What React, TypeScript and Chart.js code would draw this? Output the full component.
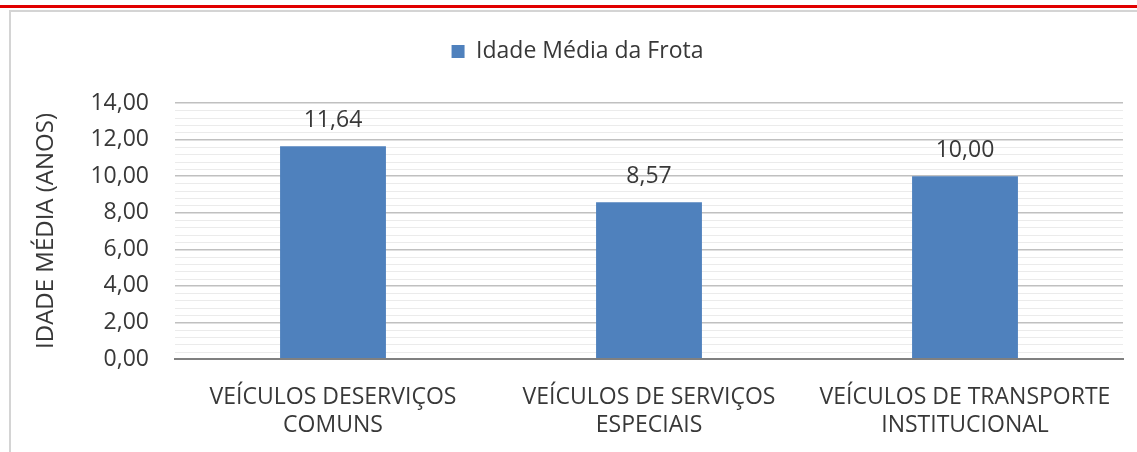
import React, { useEffect, useRef } from "react";
import { Chart, registerables } from "chart.js";

Chart.register(...registerables);

const categories: string[][] = [
  ["VEÍCULOS DESERVIÇOS", "COMUNS"],
  ["VEÍCULOS DE SERVIÇOS", "ESPECIAIS"],
  ["VEÍCULOS DE TRANSPORTE", "INSTITUCIONAL"],
];
const seriesLabel = "Idade Média da Frota";
const values: number[] = [11.64, 8.57, 10.0];
const yMin = 0;
const yMax = 14;
const yStep = 2;
const yMinorStep = 0.4;
const yTitle = "IDADE MÉDIA (ANOS)";

const FONT = "'Open Sans', 'Noto Sans', sans-serif";
const TEXT = "#383838";
const BAR = "#4F81BD";
const FS = 23;

const fmt = (v: number) => v.toFixed(2).replace(".", ",");

const legendSpace = {
  id: "legendSpace",
  beforeInit(chart: any) {
    const legend = chart.legend;
    if (!legend) return;
    const orig = legend.fit;
    legend.fit = function () {
      orig.call(this);
      this.height += 30;
    };
  },
};

const minorGrid = {
  id: "minorGrid",
  beforeDatasetsDraw(chart: any) {
    const y = chart.scales.y;
    const { left, right } = chart.chartArea;
    const ctx = chart.ctx;
    ctx.save();
    ctx.strokeStyle = "#ebebeb";
    ctx.lineWidth = 1;
    const n = Math.round((yMax - yMin) / yMinorStep);
    for (let i = 1; i < n; i++) {
      const v = yMin + i * yMinorStep;
      if (Math.abs(v / yStep - Math.round(v / yStep)) < 1e-6) continue;
      const py = Math.round(y.getPixelForValue(v)) + 0.5;
      ctx.beginPath();
      ctx.moveTo(left, py);
      ctx.lineTo(right, py);
      ctx.stroke();
    }
    ctx.restore();
  },
};

const dataLabels = {
  id: "dataLabels",
  afterDatasetsDraw(chart: any) {
    const ctx = chart.ctx;
    const meta = chart.getDatasetMeta(0);
    ctx.save();
    ctx.fillStyle = TEXT;
    ctx.font = `${FS}px ${FONT}`;
    ctx.textAlign = "center";
    ctx.textBaseline = "middle";
    meta.data.forEach((bar: any, i: number) => {
      ctx.fillText(fmt(values[i]), bar.x, bar.y - 26);
    });
    ctx.restore();
  },
};

export default function App() {
  const ref = useRef<HTMLCanvasElement | null>(null);
  useEffect(() => {
    if (!ref.current) return;
    const chart = new Chart(ref.current, {
      type: "bar",
      data: {
        labels: categories,
        datasets: [
          {
            label: seriesLabel,
            data: values,
            backgroundColor: BAR,
            borderWidth: 0,
            categoryPercentage: 1,
            barPercentage: 0.335,
          },
        ],
      },
      options: {
        animation: false,
        responsive: false,
        maintainAspectRatio: false,
        layout: { padding: { left: 22, right: 37, top: 17, bottom: 0 } },
        plugins: {
          legend: {
            display: true,
            position: "top",
            labels: {
              font: { family: FONT, size: FS },
              color: TEXT,
              boxWidth: 13,
              boxHeight: 13,
              padding: 12,
            },
          },
          tooltip: { enabled: false },
        },
        scales: {
          x: {
            grid: { display: false, drawTicks: false },
            border: { display: true, color: "#808080", width: 2 },
            ticks: {
              color: TEXT,
              font: { family: FONT, size: FS, lineHeight: "28px" },
              padding: 24,
              maxRotation: 0,
              autoSkip: false,
            },
            afterFit: (s: any) => {
              s.height = 93;
            },
          },
          y: {
            min: yMin,
            max: yMax,
            ticks: {
              stepSize: yStep,
              color: TEXT,
              font: { family: FONT, size: FS },
              padding: 26,
              callback: (v: any) => fmt(Number(v)),
            },
            grid: {
              drawTicks: false,
              color: (c: any) => (c.tick && c.tick.value === 0 ? "#808080" : "#c0c0c0"),
              lineWidth: (c: any) => (c.tick && c.tick.value === 0 ? 2 : 1.5),
            },
            border: { display: false },
            title: {
              display: true,
              text: yTitle,
              color: TEXT,
              font: { family: FONT, size: 24 },
              padding: 0,
            },
            afterFit: (s: any) => {
              s.width = 143;
            },
          },
        },
      },
      plugins: [legendSpace, minorGrid, dataLabels],
    });
    return () => chart.destroy();
  }, []);

  return (
    <div
      style={{
        position: "fixed",
        left: 0,
        top: 0,
        width: 1137,
        height: 452,
        background: "#fff",
        overflow: "hidden",
      }}
    >
      <div style={{ position: "absolute", left: 0, top: 5, width: 1137, height: 3, background: "#e10000" }} />
      <div
        style={{
          position: "absolute",
          left: 9,
          top: 10,
          width: 1200,
          height: 500,
          borderLeft: "2px solid #d4d4d4",
          borderTop: "2px solid #d4d4d4",
          boxSizing: "border-box",
        }}
      />
      <div style={{ position: "absolute", left: 10, top: 11, width: 1150, height: 441 }}>
        <canvas ref={ref} width={1150} height={441} style={{ display: "block" }} />
      </div>
    </div>
  );
}
